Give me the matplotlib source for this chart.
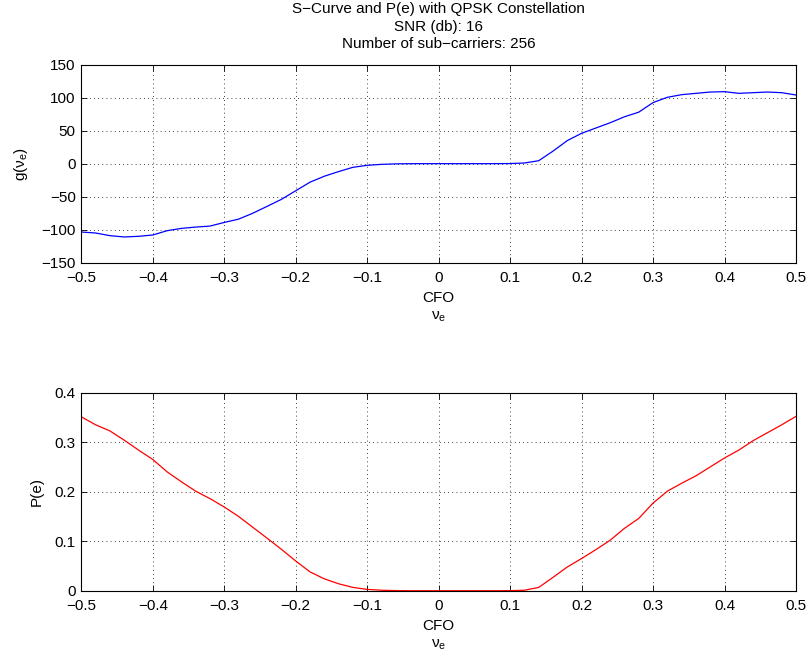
import numpy as np
import matplotlib
matplotlib.use("Agg")
import matplotlib.pyplot as plt

plt.rcParams['font.family'] = ['Liberation Sans', 'DejaVu Sans']
plt.rcParams['mathtext.fontset'] = 'custom'
plt.rcParams['mathtext.rm'] = 'Liberation Sans'
plt.rcParams['mathtext.it'] = 'Liberation Sans'
plt.rcParams['font.size'] = 11

cfo = [round(-0.5 + 0.02 * i, 2) for i in range(51)]

s_curve = [-103.5, -105, -109, -111, -110, -108, -101.5, -98, -96, -94.5,
           -89, -84, -75, -64.6, -54, -41, -28, -19, -12, -5.5, -2.5,
           -1, -0.3, 0, 0, 0, 0, 0, 0, 0, 0.2,
           1, 4.5, 19, 35, 46, 54, 62, 71, 78, 92.5,
           100.5, 104.5, 106.5, 108.5, 109, 106.5, 107.5, 108.5, 107.5, 104]

pe = [0.351, 0.335, 0.3226, 0.304, 0.284, 0.265, 0.240, 0.220, 0.201, 0.186,
      0.169, 0.150, 0.128, 0.106, 0.0835, 0.060, 0.038, 0.024, 0.014, 0.0067, 0.0027,
      0.001, 0.0003, 0, 0, 0, 0, 0, 0, 0, 0.0002,
      0.001, 0.0067, 0.027, 0.048, 0.065, 0.083, 0.102, 0.126, 0.146, 0.177,
      0.201, 0.217, 0.232, 0.250, 0.268, 0.284, 0.303, 0.319, 0.335, 0.352]

title_lines = ["S\u2212Curve and P(e) with QPSK Constellation",
               "SNR (db): 16",
               "Number of sub\u2212carriers: 256"]

xticks = [-0.5, -0.4, -0.3, -0.2, -0.1, 0, 0.1, 0.2, 0.3, 0.4, 0.5]
yticks_top = [-150, -100, -50, 0, 50, 100, 150]
yticks_bot = [0, 0.1, 0.2, 0.3, 0.4]

fig = plt.figure(figsize=(8.11, 6.56), dpi=100)
ax1 = fig.add_axes([0.1003, 0.5995, 0.8812, 0.302])
ax2 = fig.add_axes([0.1003, 0.0995, 0.8812, 0.302])

x = np.array(cfo)
ax1.plot(x, np.array(s_curve), color=(0, 0, 1), lw=0.9)
ax2.plot(x, np.array(pe), color=(1, 0, 0), lw=0.9)

for ax, yt, lab, lp in [(ax1, yticks_top, 'g(\u03bd$_e$)', 8), (ax2, yticks_bot, 'P(e)', 8)]:
    ax.set_xlim(-0.5, 0.5)
    ax.set_ylim(yt[0], yt[-1])
    ax.set_xticks(xticks)
    ax.set_yticks(yt)
    ax.set_xticklabels([('%g' % v).replace('-', '\u2212') for v in xticks])
    ax.set_yticklabels([('%g' % v).replace('-', '\u2212') for v in yt])
    ax.tick_params(direction='in', top=True, right=True, length=4, width=0.6,
                   labelsize=11)
    ax.tick_params(axis='x', pad=6)
    ax.tick_params(axis='y', pad=4)
    ax.grid(True, color='black', linestyle=(0, (1, 4)), linewidth=0.6)
    for sp in ax.spines.values():
        sp.set_linewidth(0.8)
    ax.set_xlabel('CFO\n\u03bd$_e$', fontsize=11, labelpad=4, linespacing=1.35)
    ax.set_ylabel(lab, fontsize=11, labelpad=lp)

ax1.set_title("\n".join(title_lines), fontsize=11, linespacing=1.3, pad=12)

fig.savefig("out.png", dpi=100)
